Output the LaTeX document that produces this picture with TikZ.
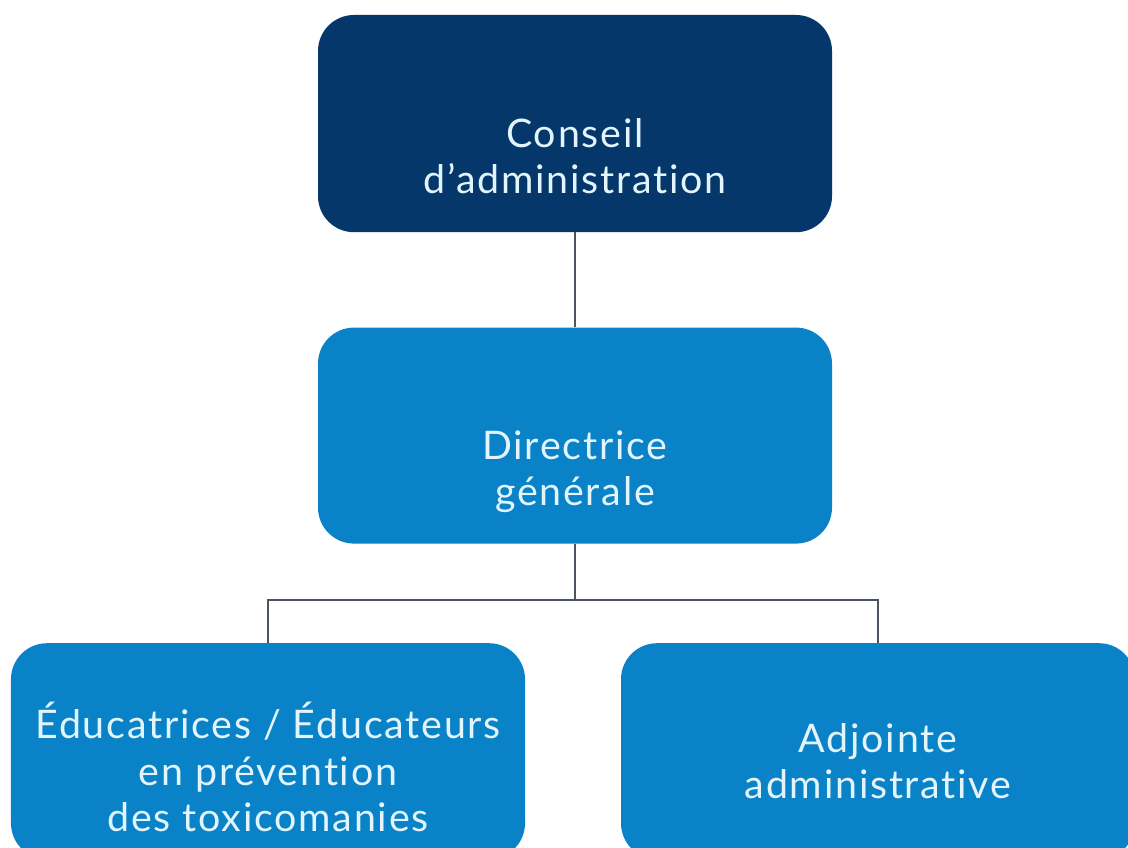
\documentclass[tikz,border=0pt]{standalone}
\usepackage{fontspec}
\setmainfont{Lato}[RawFeature=-liga, LetterSpace=4.5]
\usetikzlibrary{positioning,calc}

\definecolor{navy}{HTML}{06376A}
\definecolor{boxblue}{HTML}{0A82C8}
\definecolor{txtblue}{HTML}{E2F5FC}
\definecolor{linegray}{HTML}{4A5561}

\tikzset{
	orgbox/.style={rounded corners=0.9cm, minimum width=12.85cm, inner sep=0pt},
	topbox/.style={orgbox, fill=navy, minimum height=5.43cm},
	unitbox/.style={orgbox, fill=boxblue, minimum height=5.4cm},
	boxtext/.style={align=center, text=txtblue, inner sep=0pt,
		font=\fontsize{28}{33}\selectfont},
	link/.style={draw=linegray, line width=1.4pt}
}

\begin{document}
\begin{tikzpicture}
	\clip (0,0) rectangle (28.2,-21.2);
	\useasboundingbox (0,0) rectangle (28.2,-21.2);
	\fill[white] (0,0) rectangle (28.2,-21.2);

	\node[topbox, label={[boxtext, yshift=-0.81cm]center:Conseil\\d’administration}] (conseil) at (14.375,-3.09) {};
	\node[unitbox, label={[boxtext, yshift=-0.9cm]center:Directrice\\générale}] (dg) at (14.375,-10.89) {};
	\node[unitbox, label={[boxtext, yshift=-0.4cm]center:Éducatrices / Éducateurs\\en prévention\\des toxicomanies}] (edu) at (6.7,-18.78) {};
	\node[unitbox, label={[boxtext, yshift=-0.25cm]center:Adjointe\\administrative}] (adj) at (21.95,-18.78) {};
	\coordinate (split) at ($(dg.south)+(0,-1.4)$);

	\draw[link] (conseil) -- (dg);
	\draw[link] (dg) -- (split);
	\draw[link] (edu.north) |- (split) -| (adj.north);
\end{tikzpicture}
\end{document}
